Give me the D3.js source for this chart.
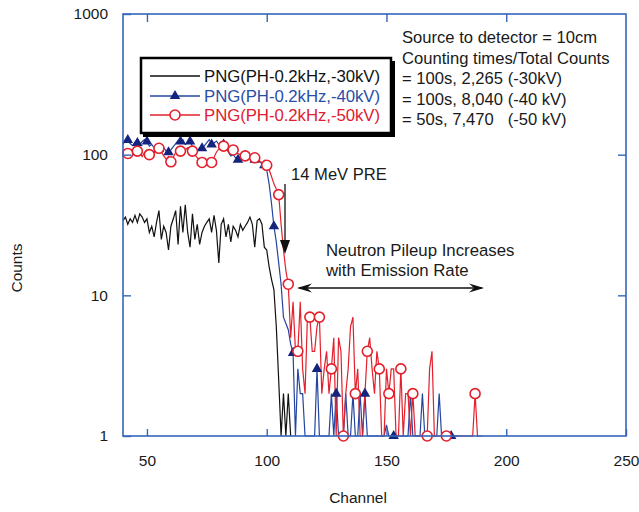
<!DOCTYPE html>
<html>
<head>
<meta charset="utf-8">
<script src="https://cdn.jsdelivr.net/npm/d3@7"></script>
<style>
  html, body { margin: 0; padding: 0; background: #ffffff; }
  svg { display: block; font-family: "Liberation Sans", Arial, sans-serif; }
</style>
</head>
<body>
<svg id="chart" width="639" height="512"></svg>
<script>
// ---------- DATA ----------
const startChannel = 40;
const xTicks = [50, 100, 150, 200, 250];
const yTicks = [1, 10, 100, 1000];

// -30 kV (black), channels 40..110
const blackCounts = [
  34,36,32,35,33,37,33,38,36,33,
  35,28,31,26,33,40,25,31,28,21,
  31,35,40,23,43,28,44,28,22,38,
  25,32,23,28,31,33,35,28,37,29,
  17,32,35,26,32,24,31,29,26,32,
  29,31,33,36,32,22,34,35,32,22,
  21,16,13,11,6,2.5,1,2,1,2,1
];

// -40 kV (blue), channels 40..180
const blueCounts = [
  118,126,127,120,116,123,121,117,124,128,
  124,115,118,112,106,110,116,112,106,104,
  108,114,120,126,124,128,118,122,124,114,
  110,106,112,111,116,122,128,118,121,125,
  118,114,118,112,104,98,100,95,92,98,
  103,100,96,99,94,92,95,90,86,84,
  78,62,45,31,24,17,12,7,6.3,5.7,
  4.5,3.9,1,3,2,2,1,1,1,1,
  1,3,1,1,1,1,1,2,1,2,
  1,1,1,2,1,1,2,1,1,2,
  1,2,1,1,1,1,1,1,1,1,
  1.2,1,1,1,1,1,1,1,1,1,
  2,1,1,1,1,2,1,1,1,1,
  1,1,2,1,1,1,1,1,1,1,
  1
];
const blueMarkerChannels = [42,46,50,55,59,64,68,73,77,82,88,95,99,103,111,121,129,141,153,177];

// -50 kV (red), channels 40..190
const redCounts = [
  98,104,102,95,100,108,106,103,97,104,
  108,100,97,102,108,111,104,98,93,97,
  89,96,104,110,106,102,108,112,104,106,
  100,95,92,88,94,90,86,88,96,104,
  110,113,115,112,110,106,108,104,102,100,
  97,98,96,94,97,95,92,90,88,86,
  84,78,70,62,57,52,32,21,15,12,
  5,9,4,4,9,3,2,7,7,4,
  4,6,7,2,3,4,2,3,5,1,
  5,4,1,2,3,6,7,2,3,1,
  1,2,4,5,3,2,4,3,1,1,
  3,2,3,3,1,1,3,1,2,2,
  1,2,1,1,1,1,1,1,3,4,
  1,1,1,1,1,1,1,1,1,1,
  1,1,1,1,1,1,1,2,1,1,
  1
];
const redMarkerChannels = [42,46,51,55,60,64,69,73,77,82,86,91,95,100,105,109,113,118,122,127,132,137,142,147,151,156,161,167,175,187];

const legendLabels = ["PNG(PH-0.2kHz,-30kV)", "PNG(PH-0.2kHz,-40kV)", "PNG(PH-0.2kHz,-50kV)"];
const infoLines = [
  "Source to detector = 10cm",
  "Counting times/Total Counts",
  "= 100s, 2,265 (-30kV)",
  "= 100s, 8,040 (-40 kV)",
  "= 50s, 7,470   (-50 kV)"
];

// ---------- STYLE ----------
const frameColor = "#3566b8";
const blackColor = "#111111";
const blueColor = "#2446a0";
const blueMarkColor = "#14247e";
const redColor = "#e3202c";

const svg = d3.select("#chart");
const L = 123, R = 626, T = 14, B = 436;

const x = d3.scaleLinear().domain([40, 250]).range([L, R]);
const y = d3.scaleLog().domain([1, 1000]).range([B, T]);

const toPoints = (arr) => arr.map((c, i) => ({ ch: startChannel + i, c }));
const blackPts = toPoints(blackCounts);
const bluePts = toPoints(blueCounts);
const redPts = toPoints(redCounts);

const line = d3.line().x(d => x(d.ch)).y(d => y(d.c)).curve(d3.curveLinear);

const plot = svg.append("g");

plot.append("path").datum(blackPts).attr("d", line)
  .attr("fill", "none").attr("stroke", blackColor).attr("stroke-width", 1.2);
plot.append("path").datum(bluePts).attr("d", line)
  .attr("fill", "none").attr("stroke", blueColor).attr("stroke-width", 1.2);
plot.append("path").datum(redPts).attr("d", line)
  .attr("fill", "none").attr("stroke", redColor).attr("stroke-width", 1.2);

const tri = d3.symbol().type(d3.symbolTriangle).size(48);
plot.selectAll(".bm").data(blueMarkerChannels).enter().append("path")
  .attr("d", tri)
  .attr("transform", ch => `translate(${x(ch)},${y(blueCounts[ch - startChannel])})`)
  .attr("fill", blueMarkColor);

plot.selectAll(".rm").data(redMarkerChannels).enter().append("circle")
  .attr("cx", ch => x(ch))
  .attr("cy", ch => y(redCounts[ch - startChannel]))
  .attr("r", 5)
  .attr("fill", "#ffffff")
  .attr("stroke", redColor)
  .attr("stroke-width", 1.6);

// ---------- AXES ----------
const fmt = d3.format("d");
const gB = svg.append("g").attr("transform", `translate(0,${B})`)
  .call(d3.axisBottom(x).tickValues(xTicks).tickSize(-7).tickPadding(19).tickFormat(fmt));
const gT = svg.append("g").attr("transform", `translate(0,${T})`)
  .call(d3.axisTop(x).tickValues(xTicks.slice(0, 4)).tickSize(-8).tickFormat(""));
const gL = svg.append("g").attr("transform", `translate(${L},0)`)
  .call(d3.axisLeft(y).tickValues(yTicks).tickSize(-8).tickPadding(15).tickFormat(fmt));
const gR = svg.append("g").attr("transform", `translate(${R},0)`)
  .call(d3.axisRight(y).tickValues([10, 100]).tickSize(-8).tickFormat(""));

[gB, gT, gL, gR].forEach(g => {
  g.select(".domain").remove();
  g.selectAll(".tick line").attr("stroke", frameColor).attr("stroke-width", 1.4);
  g.selectAll(".tick text").attr("fill", "#1a1a1a").attr("font-size", 15.5)
    .attr("font-family", "'Liberation Sans', Arial, sans-serif");
});

svg.append("rect").attr("x", L).attr("y", T).attr("width", R - L).attr("height", B - T)
  .attr("fill", "none").attr("stroke", frameColor).attr("stroke-width", 1.6);

// axis titles
svg.append("text").attr("x", 358).attr("y", 503).attr("text-anchor", "middle")
  .attr("font-size", 15.5).attr("fill", "#1a1a1a").text("Channel");
svg.append("text").attr("transform", "translate(22,268) rotate(-90)").attr("text-anchor", "middle")
  .attr("font-size", 15.5).attr("fill", "#1a1a1a").text("Counts");

// ---------- LEGEND ----------
const lg = svg.append("g");
lg.append("rect").attr("x", 143).attr("y", 61).attr("width", 252).attr("height", 76).attr("fill", "#000");
lg.append("rect").attr("x", 141).attr("y", 58).attr("width", 250).attr("height", 75)
  .attr("fill", "#fff").attr("stroke", "#000").attr("stroke-width", 2.5);
const legColors = [blackColor, blueColor, redColor];
const legTextColors = ["#111111", "#2a4ea8", "#e02030"];
const rowsY = [76, 96, 115];
legendLabels.forEach((lab, i) => {
  lg.append("line").attr("x1", 150).attr("x2", 200).attr("y1", rowsY[i]).attr("y2", rowsY[i])
    .attr("stroke", legColors[i]).attr("stroke-width", 1.4);
  lg.append("text").attr("x", 204).attr("y", rowsY[i] + 6).attr("font-size", 16.8)
    .attr("textLength", 176).attr("lengthAdjust", "spacing")
    .attr("fill", legTextColors[i]).text(lab);
});
lg.append("path").attr("d", tri).attr("transform", `translate(175,${rowsY[1]})`).attr("fill", blueMarkColor);
lg.append("circle").attr("cx", 175).attr("cy", rowsY[2]).attr("r", 5).attr("fill", "#fff")
  .attr("stroke", redColor).attr("stroke-width", 1.6);

// ---------- INFO TEXT ----------
infoLines.forEach((t, i) => {
  svg.append("text").attr("x", 402).attr("y", 43 + i * 20.5).attr("font-size", 16.6)
    .attr("fill", "#1a1a1a").attr("xml:space", "preserve").style("white-space", "pre").text(t);
});

// ---------- ANNOTATIONS ----------
svg.append("text").attr("x", 291).attr("y", 180).attr("font-size", 16.6).attr("fill", "#1a1a1a").text("14 MeV PRE");
svg.append("line").attr("x1", 285).attr("x2", 285).attr("y1", 184).attr("y2", 244)
  .attr("stroke", "#111").attr("stroke-width", 1.3);
svg.append("path").attr("d", "M280,240 L290,240 L285,254 Z").attr("fill", "#111");

svg.append("text").attr("x", 326).attr("y", 256).attr("font-size", 16.8).attr("fill", "#1a1a1a").text("Neutron Pileup Increases");
svg.append("text").attr("x", 326).attr("y", 276).attr("font-size", 16.8).attr("fill", "#1a1a1a").text("with Emission Rate");
svg.append("line").attr("x1", 299).attr("x2", 482).attr("y1", 288).attr("y2", 288)
  .attr("stroke", "#111").attr("stroke-width", 1.3);
svg.append("path").attr("d", "M297,288 L312,283.5 L307,288 L312,292.5 Z").attr("fill", "#111");
svg.append("path").attr("d", "M484,288 L469,283.5 L474,288 L469,292.5 Z").attr("fill", "#111");
</script>
</body>
</html>
